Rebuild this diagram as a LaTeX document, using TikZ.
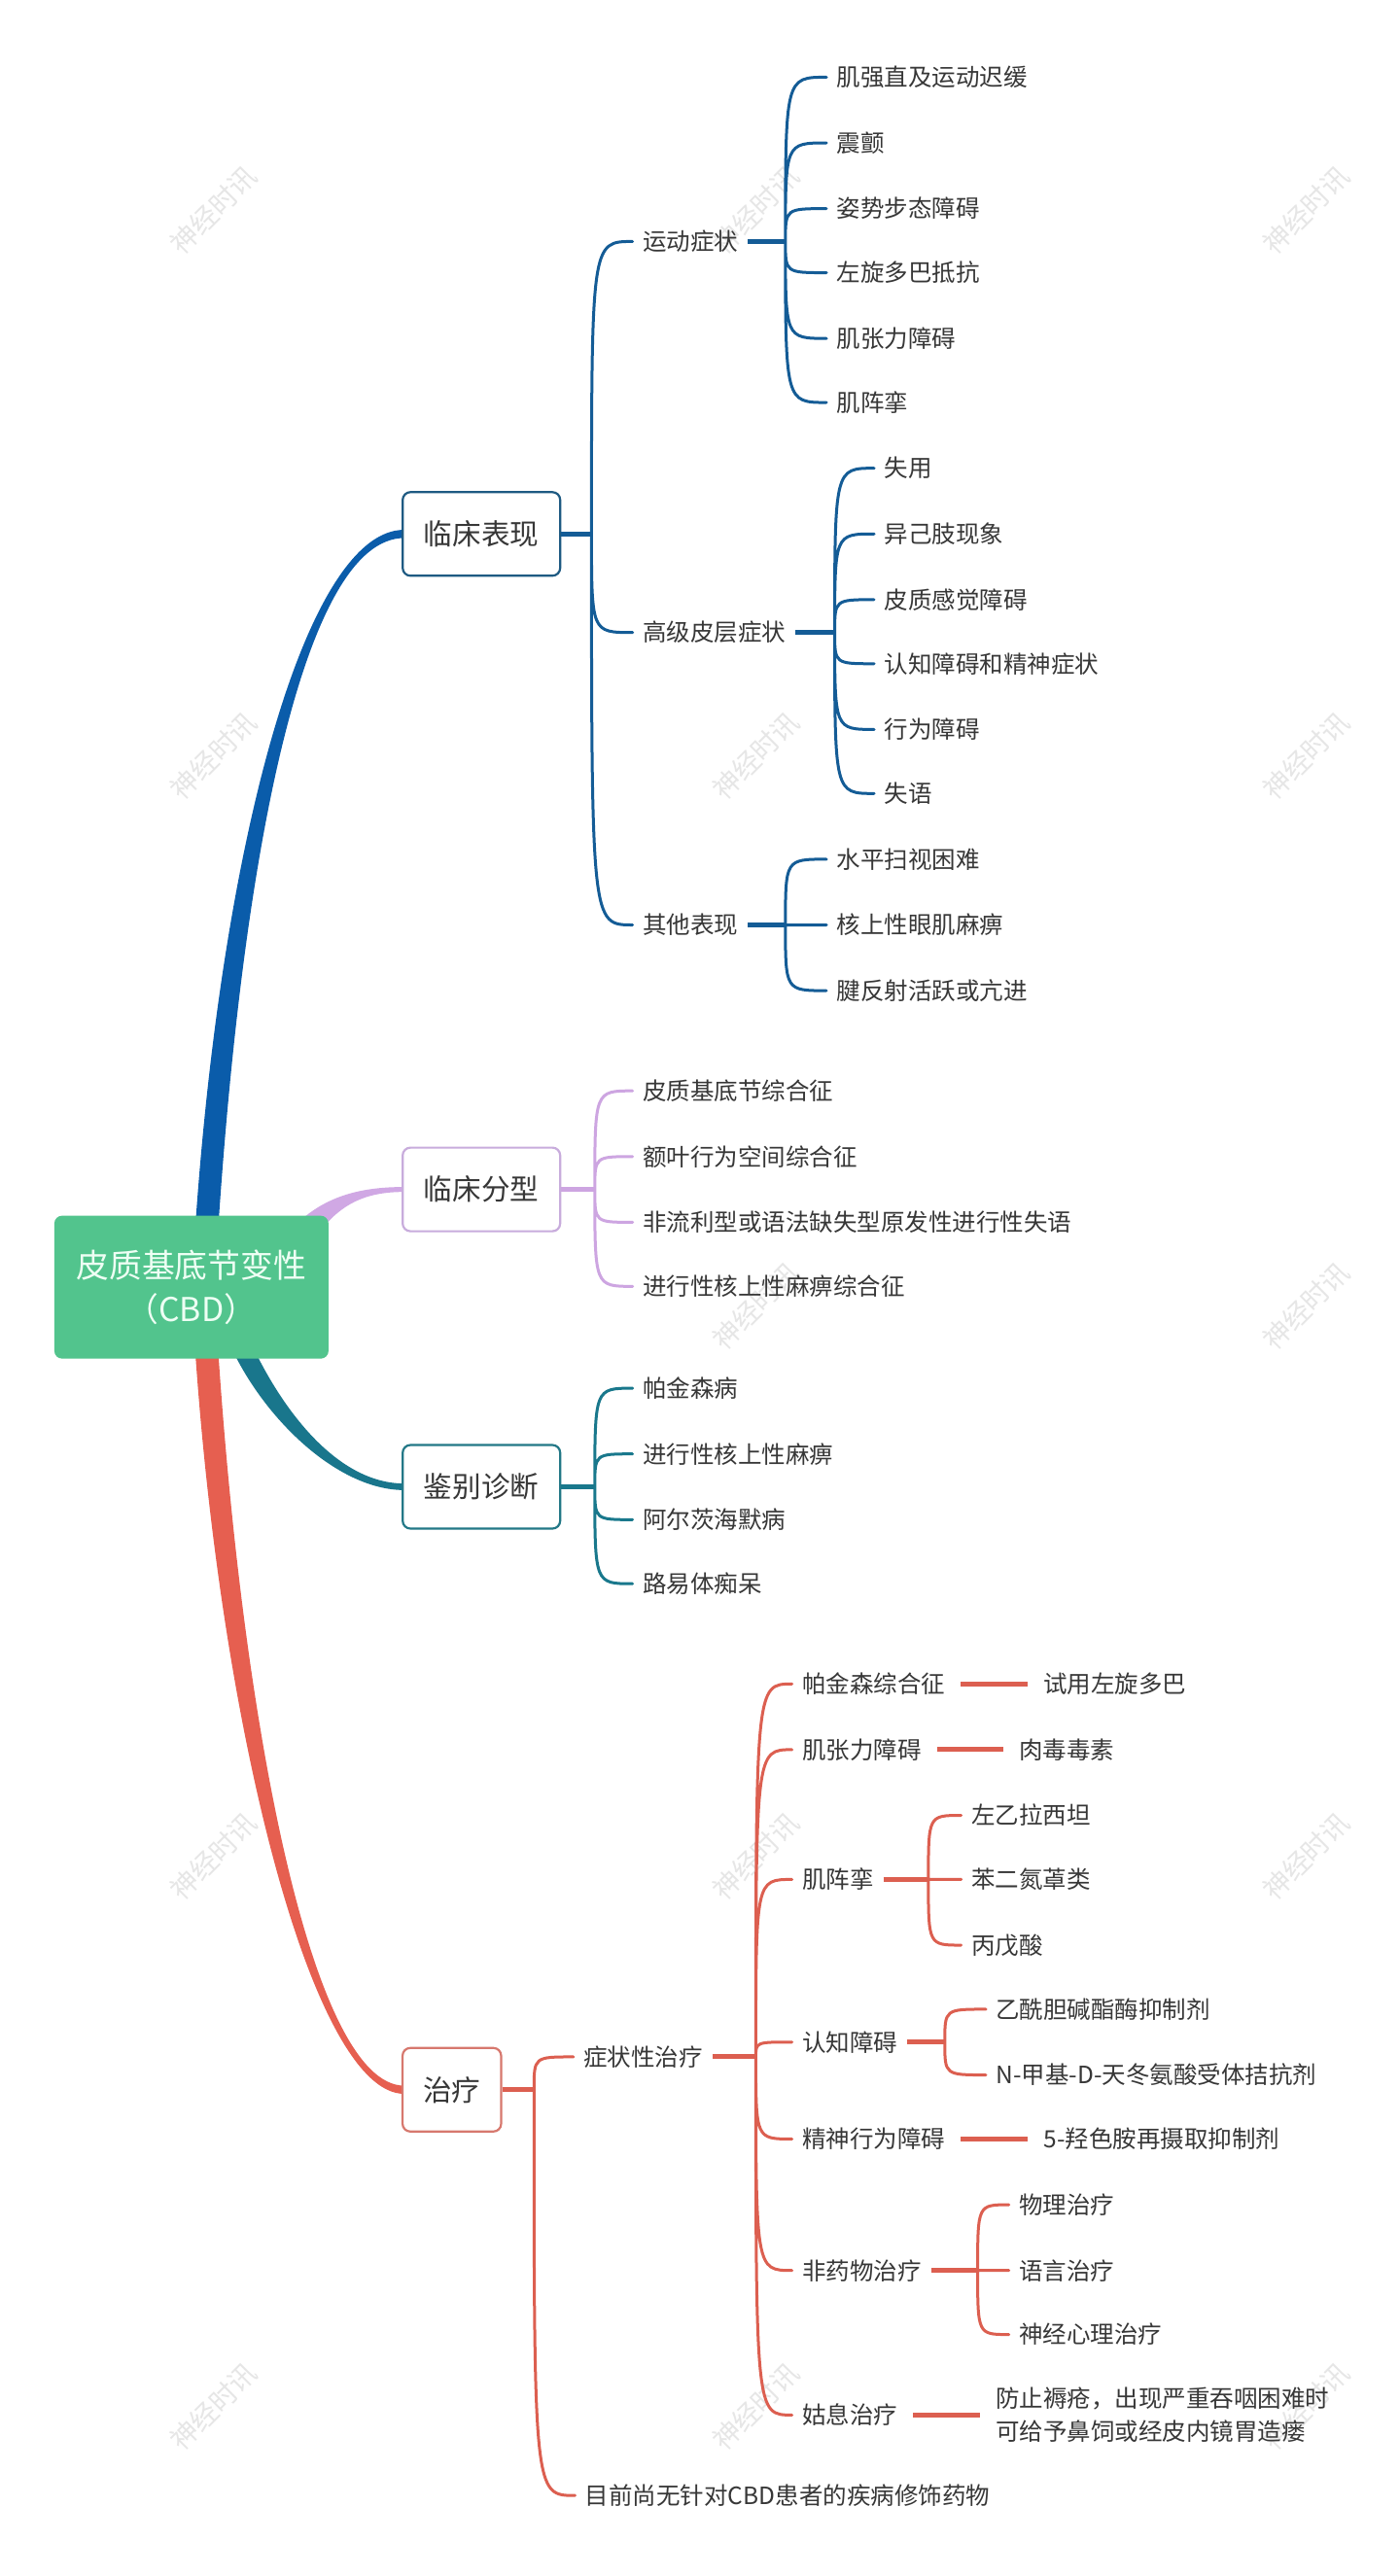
\documentclass[tikz,border=0pt]{standalone}
\usepackage{fontspec}
\setmainfont{Noto Sans CJK SC}
\usetikzlibrary{calc}
\definecolor{tcol}{RGB}{55,55,55}
\definecolor{rootg}{RGB}{82,196,141}
\definecolor{roott}{RGB}{238,255,244}
\definecolor{bluethick}{RGB}{10,92,170}
\definecolor{blueln}{RGB}{20,92,150}
\definecolor{bluebd}{RGB}{30,90,130}
\definecolor{lavthick}{RGB}{208,168,228}
\definecolor{lavln}{RGB}{205,165,225}
\definecolor{lavbd}{RGB}{200,172,220}
\definecolor{tealthick}{RGB}{25,118,140}
\definecolor{tealln}{RGB}{25,120,140}
\definecolor{tealbd}{RGB}{35,120,135}
\definecolor{redthick}{RGB}{230,95,80}
\definecolor{redln}{RGB}{220,95,80}
\definecolor{redbd}{RGB}{215,120,110}
\definecolor{wmcol}{RGB}{230,230,230}
\tikzset{
  txt/.style={anchor=west, inner xsep=5pt, inner ysep=2pt, text=tcol,
    font=\fontsize{12.25pt}{15pt}\selectfont},
  l1box/.style={draw=#1, fill=white, line width=1.1pt, rounded corners=4pt,
    minimum width=81pt, minimum height=43pt, inner sep=0pt, text=tcol,
    font=\fontsize{14.8pt}{18pt}\selectfont},
  rootbox/.style={fill=rootg, rounded corners=4pt, minimum width=141pt,
    minimum height=73.5pt, inner sep=0pt, text=roott, align=center,
    font=\fontsize{16.9pt}{22.8pt}\selectfont},
  cv/.style={to path={(\tikztostart) .. controls (\tikztostart |- \tikztotarget) .. (\tikztotarget)}},
  thinln/.style={line width=1.5pt, line cap=round},
  stubln/.style={line width=2.5pt},
  leafln/.style={line width=2.5pt, shorten <=3pt, shorten >=3pt},
  wm/.style={rotate=45, text=wmcol, inner sep=0pt, font=\fontsize{14pt}{14pt}\selectfont}
}
\begin{document}
\begin{tikzpicture}[x=0.845pt,y=-0.845pt]
\useasboundingbox (0,0) rectangle (852,1568);
\fill[white] (0,0) rectangle (852,1568);

% watermarks (the one behind the root box is hidden in the reference)
\foreach \wx/\wy in {130/128,460/128,795/128,130/460,460/460,795/460,460/795,795/795,
                     130/1130,460/1130,795/1130,130/1465,460/1465,795/1465}{
  \node[wm] (wm-\wx-\wy) at (\wx,\wy) {神经时讯};
}

% thick tapered main branches
\fill[bluethick] (118,760) .. controls (133,520) and (185,322.5) .. (246,322.5)
  -- (246,327.5) .. controls (185,327.5) and (147,520) .. (132,760) -- cycle;
\fill[redthick] (118,810) .. controls (133,1050) and (190,1274.5) .. (246,1274.5)
  -- (246,1269.5) .. controls (190,1269.5) and (147,1050) .. (132,810) -- cycle;
\fill[tealthick] (139.5,817.5) .. controls (159.5,862.5) and (205,907) .. (246,907)
  -- (246,903) .. controls (205,903) and (170.5,857.5) .. (150.5,812.5) -- cycle;
\fill[lavthick] (185,741) .. controls (202,727) and (222,722.5) .. (246,722.5)
  -- (246,725.5) .. controls (222,725.5) and (208,733) .. (195,749) -- cycle;

% root
\node[rootbox] (root) at (116.5,783.5) {皮质基底节变性\\（CBD）};

% level-1 boxes
\node[l1box=bluebd] (b1) at (293,325) {临床表现};
\node[l1box=lavbd] (b2) at (293,724) {临床分型};
\node[l1box=tealbd] (b3) at (293,905) {鉴别诊断};
\node[l1box=redbd, minimum width=50.7pt] (b4) at (275,1272) {治疗};

\coordinate (J1) at (360,325);
\coordinate (J2) at (362,724);
\coordinate (J3) at (362,905);
\coordinate (J4) at (325,1272);

% ---------- 临床表现 ----------
\node[txt] (m1) at (385,147) {运动症状};
\node[txt] (m2) at (385,385) {高级皮层症状};
\node[txt] (m3) at (385,563) {其他表现};
\coordinate (J11) at (478,147);
\coordinate (J12) at (508,385);
\coordinate (J13) at (478,563);

\node[txt] (m1a) at (503,47) {肌强直及运动迟缓};
\node[txt] (m1b) at (503,87) {震颤};
\node[txt] (m1c) at (503,127) {姿势步态障碍};
\node[txt] (m1d) at (503,166) {左旋多巴抵抗};
\node[txt] (m1e) at (503,206) {肌张力障碍};
\node[txt] (m1f) at (503,245) {肌阵挛};

\node[txt] (m2a) at (532,285) {失用};
\node[txt] (m2b) at (532,325) {异己肢现象};
\node[txt] (m2c) at (532,365) {皮质感觉障碍};
\node[txt] (m2d) at (532,404) {认知障碍和精神症状};
\node[txt] (m2e) at (532,444) {行为障碍};
\node[txt] (m2f) at (532,483) {失语};

\node[txt] (m3a) at (503,523) {水平扫视困难};
\node[txt] (m3b) at (503,563) {核上性眼肌麻痹};
\node[txt] (m3c) at (503,603) {腱反射活跃或亢进};

\draw[blueln, stubln] (b1.east) -- (J1);
\draw[blueln, thinln] (J1) to[cv] (m1.west) (J1) to[cv] (m2.west) (J1) to[cv] (m3.west);
\draw[blueln, stubln] (m1.east) -- (J11);
\draw[blueln, stubln] (m2.east) -- (J12);
\draw[blueln, stubln] (m3.east) -- (J13);
\draw[blueln, thinln] (J11) to[cv] (m1a.west) (J11) to[cv] (m1b.west) (J11) to[cv] (m1c.west)
  (J11) to[cv] (m1d.west) (J11) to[cv] (m1e.west) (J11) to[cv] (m1f.west);
\draw[blueln, thinln] (J12) to[cv] (m2a.west) (J12) to[cv] (m2b.west) (J12) to[cv] (m2c.west)
  (J12) to[cv] (m2d.west) (J12) to[cv] (m2e.west) (J12) to[cv] (m2f.west);
\draw[blueln, thinln] (J13) to[cv] (m3a.west) (J13) to[cv] (m3b.west) (J13) to[cv] (m3c.west);

% ---------- 临床分型 ----------
\node[txt] (p1) at (385,664) {皮质基底节综合征};
\node[txt] (p2) at (385,704) {额叶行为空间综合征};
\node[txt] (p3) at (385,744) {非流利型或语法缺失型原发性进行性失语};
\node[txt] (p4) at (385,783) {进行性核上性麻痹综合征};
\draw[lavln, stubln] (b2.east) -- (J2);
\draw[lavln, thinln] (J2) to[cv] (p1.west) (J2) to[cv] (p2.west) (J2) to[cv] (p3.west) (J2) to[cv] (p4.west);

% ---------- 鉴别诊断 ----------
\node[txt] (d1) at (385,845) {帕金森病};
\node[txt] (d2) at (385,885) {进行性核上性麻痹};
\node[txt] (d3) at (385,925) {阿尔茨海默病};
\node[txt] (d4) at (385,964) {路易体痴呆};
\draw[tealln, stubln] (b3.east) -- (J3);
\draw[tealln, thinln] (J3) to[cv] (d1.west) (J3) to[cv] (d2.west) (J3) to[cv] (d3.west) (J3) to[cv] (d4.west);

% ---------- 治疗 ----------
\node[txt] (s1) at (349,1252) {症状性治疗};
\node[txt] (s2) at (350,1519) {目前尚无针对CBD患者的疾病修饰药物};
\coordinate (J41) at (460,1252);
\draw[redln, stubln] (b4.east) -- (J4);
\draw[redln, thinln] (J4) to[cv] (s1.west) (J4) to[cv] (s2.west);
\draw[redln, stubln] (s1.east) -- (J41);

\node[txt] (t1) at (482,1025) {帕金森综合征};
\node[txt] (t2) at (482,1065) {肌张力障碍};
\node[txt] (t3) at (482,1144) {肌阵挛};
\node[txt] (t4) at (482,1243) {认知障碍};
\node[txt] (t5) at (482,1302) {精神行为障碍};
\node[txt] (t6) at (482,1382) {非药物治疗};
\node[txt] (t7) at (482,1470) {姑息治疗};
\draw[redln, thinln] (J41) to[cv] (t1.west) (J41) to[cv] (t2.west) (J41) to[cv] (t3.west)
  (J41) to[cv] (t4.west) (J41) to[cv] (t5.west) (J41) to[cv] (t6.west) (J41) to[cv] (t7.west);

\node[txt] (u1) at (629,1025) {试用左旋多巴};
\node[txt] (u2) at (614,1065) {肉毒毒素};
\node[txt] (u5) at (629,1302) {5-羟色胺再摄取抑制剂};
\node[txt, align=left, font=\fontsize{12.25pt}{16.9pt}\selectfont] (u7) at (600,1470)
  {防止褥疮，出现严重吞咽困难时\\可给予鼻饲或经皮内镜胃造瘘};
\draw[redln, leafln] (t1.east) -- (u1.west);
\draw[redln, leafln] (t2.east) -- (u2.west);
\draw[redln, leafln] (t5.east) -- (u5.west);
\draw[redln, leafln] (t7.east) -- (u7.west);

\coordinate (J43) at (565,1144);
\node[txt] (v1) at (585,1105) {左乙拉西坦};
\node[txt] (v2) at (585,1144) {苯二氮䓬类};
\node[txt] (v3) at (585,1184) {丙戊酸};
\draw[redln, stubln] (t3.east) -- (J43);
\draw[redln, thinln] (J43) to[cv] (v1.west) (J43) to[cv] (v2.west) (J43) to[cv] (v3.west);

\coordinate (J44) at (575,1243);
\node[txt] (w1) at (600,1223) {乙酰胆碱酯酶抑制剂};
\node[txt] (w2) at (600,1263) {N-甲基-D-天冬氨酸受体拮抗剂};
\draw[redln, stubln] (t4.east) -- (J44);
\draw[redln, thinln] (J44) to[cv] (w1.west) (J44) to[cv] (w2.west);

\coordinate (J46) at (595,1382);
\node[txt] (x1) at (614,1342) {物理治疗};
\node[txt] (x2) at (614,1382) {语言治疗};
\node[txt] (x3) at (614,1421) {神经心理治疗};
\draw[redln, stubln] (t6.east) -- (J46);
\draw[redln, thinln] (J46) to[cv] (x1.west) (J46) to[cv] (x2.west) (J46) to[cv] (x3.west);
\end{tikzpicture}
\end{document}
